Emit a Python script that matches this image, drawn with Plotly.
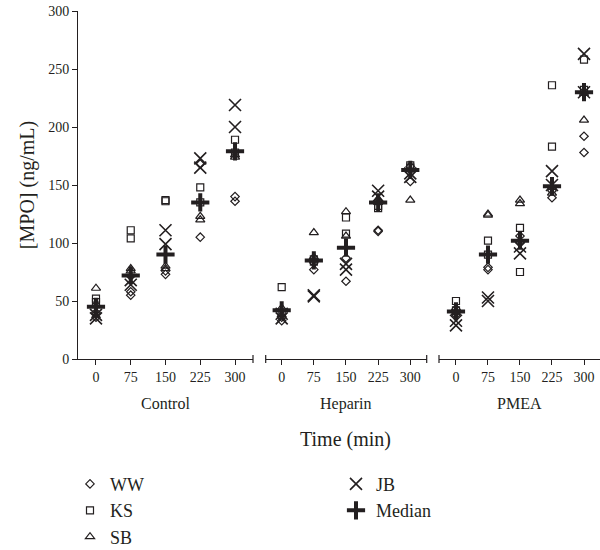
import plotly.graph_objects as go

times = [0, 75, 150, 225, 300]
groups = ["Control", "Heparin", "PMEA"]
series = ["WW", "KS", "SB", "JB"]

# two replicate values per time point
control_ww = [[40, 36], [58, 55], [73, 76], [168, 105], [140, 136]]
control_ks = [[52, 49], [111, 104], [136, 137], [148, 135], [189, 178]]
control_sb = [[61, 47], [78, 76], [80, 78], [123, 120], [176, 174]]
control_jb = [[38, 35], [68, 64], [111, 99], [173, 165], [219, 200]]
control_median = [45, 72, 90, 135, 179]

heparin_ww = [[33, 36], [77, 83], [87, 67], [111, 110], [153, 166]]
heparin_ks = [[62, 40], [86, 84], [122, 108], [132, 130], [167, 165]]
heparin_sb = [[44, 38], [109, 88], [127, 106], [138, 135], [137, 163]]
heparin_jb = [[35, 39], [54, 55], [82, 77], [145, 140], [157, 160]]
heparin_median = [42, 85, 96, 135, 163]

pmea_ww = [[40, 38], [79, 77], [106, 100], [145, 139], [192, 178]]
pmea_ks = [[50, 42], [102, 90], [113, 75], [236, 183], [258, 232]]
pmea_sb = [[44, 40], [125, 124], [137, 134], [148, 143], [206, 229]]
pmea_jb = [[33, 29], [53, 50], [97, 91], [162, 150], [263, 230]]
pmea_median = [41, 90, 102, 149, 230]

y_ticks = [0, 50, 100, 150, 200, 250, 300]

data = {
    "Control": {"WW": control_ww, "KS": control_ks, "SB": control_sb, "JB": control_jb, "Median": control_median},
    "Heparin": {"WW": heparin_ww, "KS": heparin_ks, "SB": heparin_sb, "JB": heparin_jb, "Median": heparin_median},
    "PMEA": {"WW": pmea_ww, "KS": pmea_ks, "SB": pmea_sb, "JB": pmea_jb, "Median": pmea_median},
}

FONT = "Liberation Serif"
INK = "#231f20"

styles = {
    "WW": dict(symbol="diamond-open", size=6.5, line=dict(width=1.2, color=INK), color=INK),
    "KS": dict(symbol="square-open", size=7, line=dict(width=1.2, color=INK), color=INK),
    "SB": dict(symbol="triangle-up-open", size=8, line=dict(width=1.2, color=INK), color=INK),
    "JB": dict(symbol="x-thin", size=12, line=dict(width=1.6, color=INK), color=INK),
    "Median": dict(symbol="cross-thin", size=13, line=dict(width=4, color=INK), color=INK),
}
ranks = {"WW": 1, "JB": 2, "KS": 3, "Median": 4, "SB": 5}

axes = ["x", "x2", "x3"]
fig = go.Figure()
for name in series + ["Median"]:
    for gi, g in enumerate(groups):
        vals = data[g][name]
        if name == "Median":
            xs, ys = times, vals
        else:
            xs = [t for t, pair in zip(times, vals) for _ in pair]
            ys = [v for pair in vals for v in pair]
        fig.add_trace(go.Scatter(
            x=xs, y=ys, mode="markers", name=name, marker=styles[name],
            xaxis=axes[gi], yaxis="y", legendgroup=name,
            showlegend=(gi == 0), legendrank=ranks[name],
        ))

W, H = 600, 550
ml, mr, mt = 78, 0, 11.3
mb = H - 359.3
pw = W - ml - mr
ph = H - mt - mb

def dom(a, b):
    return [(a - ml) / pw, (b - ml) / pw]

xcommon = dict(
    showline=True, linecolor=INK, linewidth=1, ticks="outside", ticklen=5,
    tickcolor=INK, tickwidth=1, showgrid=False, zeroline=False,
    tickvals=times, ticktext=[str(t) for t in times],
    tickfont=dict(family=FONT, size=14, color=INK), anchor="y",
)
fig.update_layout(
    width=W, height=H,
    margin=dict(l=ml, r=mr, t=mt, b=mb, pad=0, autoexpand=False),
    paper_bgcolor="white", plot_bgcolor="white",
    font=dict(family=FONT, color=INK),
    xaxis=dict(domain=dom(78, 253), range=[-38.8, 338.8], **xcommon),
    xaxis2=dict(domain=dom(265.7, 426.7), range=[-37.3, 338.3], **xcommon),
    xaxis3=dict(domain=dom(439, 600), range=[-39.8, 337.5], **xcommon),
    yaxis=dict(range=[0, 300], tickvals=y_ticks, showline=True, linecolor=INK,
               linewidth=1, ticks="outside", ticklen=5, tickcolor=INK,
               showgrid=False, zeroline=False, anchor="x", automargin=False,
               tickfont=dict(family=FONT, size=14, color=INK),
               title=dict(text="[MPO] (ng/mL)", standoff=8,
                          font=dict(family=FONT, size=20, color=INK))),
    showlegend=True,
    legend=dict(orientation="h", xref="paper", yref="paper",
                x=(70 - ml) / pw, y=-(466 - 359.3) / ph, xanchor="left", yanchor="top",
                entrywidth=221, font=dict(family=FONT, size=18, color=INK),
                tracegroupgap=0, itemclick=False, borderwidth=0),
)

# end caps on the x axes
caps = [("x", 1), ("x2", 0), ("x2", 1), ("x3", 0)]
for ax, pos in caps:
    fig.add_shape(type="line", xref=f"{ax} domain", yref="y domain",
                  x0=pos, x1=pos, y0=-4 / ph, y1=4 / ph,
                  line=dict(color=INK, width=1.2))

# group labels
for ax, g in zip(axes, groups):
    fig.add_annotation(text=g, xref=f"{ax} domain", yref="paper", x=0.5,
                       y=-(404 - 359.3) / ph, showarrow=False,
                       xanchor="center", yanchor="middle",
                       font=dict(family=FONT, size=16, color=INK))

fig.add_annotation(text="Time (min)", xref="paper", yref="paper",
                   x=(345 - ml) / pw, y=-(440 - 359.3) / ph, showarrow=False,
                   xanchor="center", yanchor="middle",
                   font=dict(family=FONT, size=20, color=INK))

fig.write_html("out.html")
